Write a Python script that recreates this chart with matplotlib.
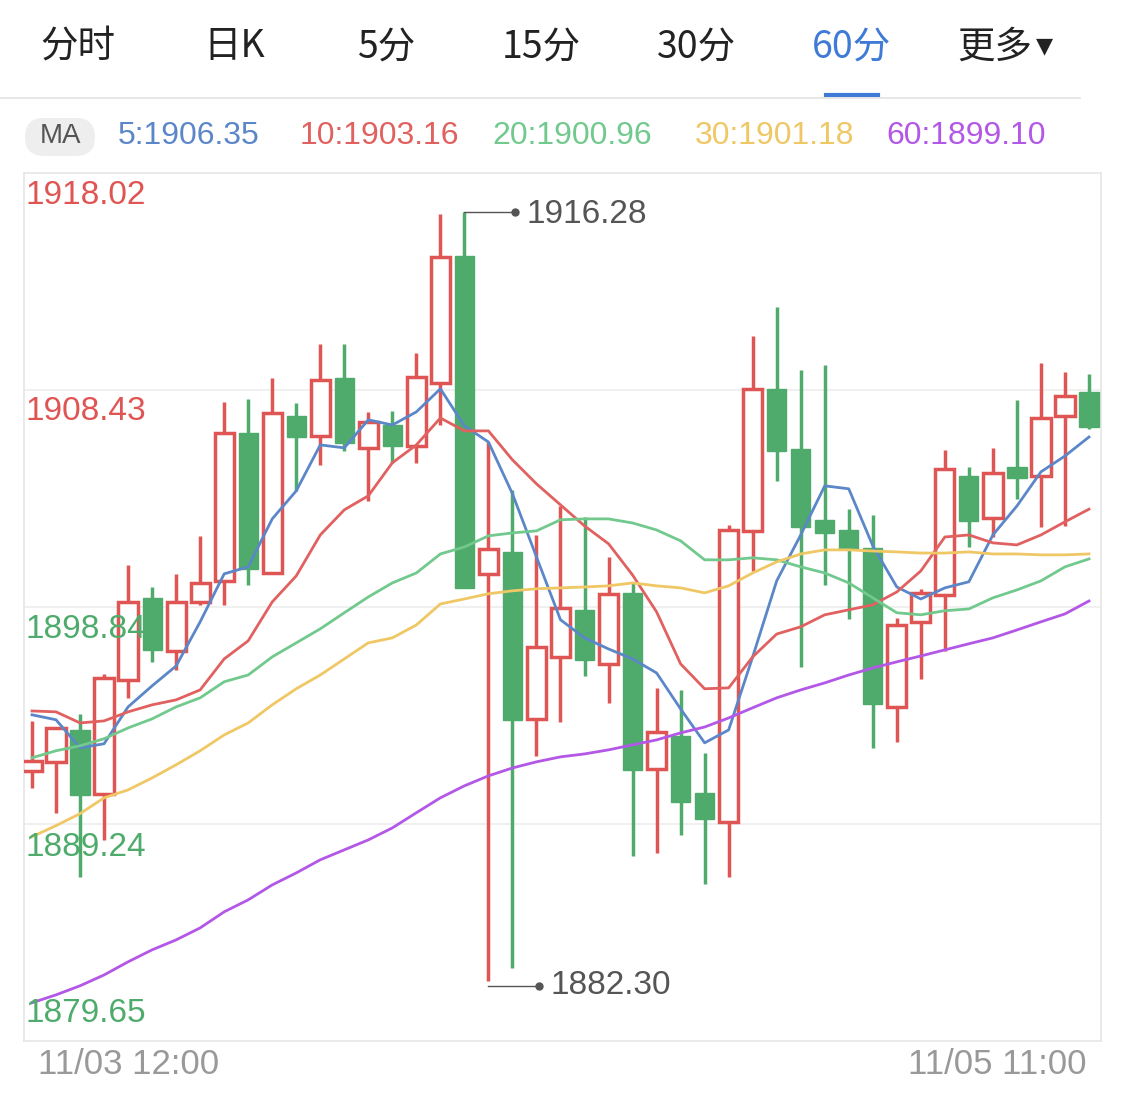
import matplotlib
matplotlib.use("Agg")
import matplotlib.pyplot as plt
from matplotlib.patches import Rectangle, FancyBboxPatch
import numpy as np

opens = [1891.59,1891.99,1893.40,1890.58,1895.61,1899.24,1896.89,1899.06,1899.99,1906.53,
         1900.34,1907.28,1906.40,1908.96,1905.87,1906.88,1905.96,1908.74,1914.35,1900.30,
         1901.27,1893.89,1896.63,1898.71,1896.32,1899.46,1891.68,1893.14,1890.62,1889.34,
         1902.20,1908.47,1905.82,1902.69,1902.24,1901.45,1894.42,1898.18,1899.37,1904.63,
         1902.77,1905.03,1904.63,1907.28,1908.34]
closes = [1892.03,1893.49,1890.53,1895.70,1899.06,1896.94,1899.06,1899.90,1906.53,1900.52,
          1907.41,1906.35,1908.87,1906.09,1907.02,1905.96,1909.00,1914.31,1899.68,1901.40,
          1893.85,1897.07,1898.80,1896.50,1899.41,1891.64,1893.32,1890.22,1889.47,1902.24,
          1908.47,1905.73,1902.38,1902.11,1901.40,1894.55,1898.04,1899.46,1904.94,1902.64,
          1904.76,1904.54,1907.19,1908.17,1906.80]
highs = [1893.80,1893.49,1894.11,1895.88,1900.70,1899.72,1900.30,1901.98,1907.90,1908.03,
         1908.96,1907.86,1910.46,1910.46,1907.46,1907.50,1910.07,1916.21,1916.28,1906.13,
         1904.01,1902.02,1903.30,1902.82,1901.05,1899.90,1895.26,1895.17,1892.39,1902.46,
         1910.82,1912.10,1909.31,1909.54,1903.17,1902.91,1898.35,1899.64,1905.78,1905.03,
         1905.87,1907.99,1909.62,1909.23,1909.14]
lows = [1890.84,1889.74,1886.91,1888.54,1894.82,1896.41,1896.06,1898.93,1898.93,1899.81,
        1900.34,1903.97,1905.12,1905.73,1903.52,1905.20,1905.20,1906.88,1899.68,1882.30,
        1882.89,1892.26,1893.76,1895.79,1894.60,1887.84,1887.97,1888.76,1886.60,1886.91,
        1900.43,1904.41,1896.19,1899.81,1898.31,1892.61,1892.87,1895.66,1896.90,1901.49,
        1901.93,1903.61,1902.38,1902.42,1906.71]
ma5 = [1894.07,1893.85,1892.61,1892.79,1894.42,1895.35,1896.23,1898.18,1900.30,1900.61,
       1902.73,1903.97,1906.00,1905.87,1907.11,1906.88,1907.46,1908.48,1906.84,1906.13,
       1903.84,1901.05,1898.27,1897.47,1896.98,1896.54,1895.92,1894.33,1892.83,1893.40,
       1896.63,1899.99,1902.02,1904.19,1904.06,1901.54,1899.72,1899.19,1899.68,1899.95,
       1902.02,1903.30,1904.81,1905.51,1906.35]
ma10 = [1894.24,1894.20,1893.71,1893.80,1894.20,1894.51,1894.73,1895.17,1896.54,1897.34,
        1899.06,1900.21,1902.02,1903.13,1903.75,1905.21,1906.00,1907.19,1906.62,1906.62,
        1905.34,1904.28,1903.35,1902.42,1901.63,1900.25,1898.62,1896.32,1895.22,1895.26,
        1896.63,1897.64,1897.96,1898.49,1898.71,1898.93,1899.50,1900.43,1901.93,1902.02,
        1901.67,1901.58,1902.02,1902.60,1903.16]
ma20 = [1892.17,1892.48,1892.70,1893.01,1893.49,1893.89,1894.42,1894.82,1895.53,1895.83,
        1896.63,1897.25,1897.87,1898.58,1899.28,1899.90,1900.34,1901.18,1901.49,1901.98,
        1902.11,1902.20,1902.69,1902.73,1902.73,1902.55,1902.24,1901.76,1900.92,1900.92,
        1901.01,1900.92,1900.61,1900.34,1899.90,1899.24,1898.58,1898.49,1898.67,1898.75,
        1899.24,1899.59,1899.99,1900.61,1900.96]
ma30 = [1888.68,1889.17,1889.70,1890.40,1890.75,1891.28,1891.86,1892.48,1893.18,1893.71,
        1894.51,1895.22,1895.83,1896.54,1897.25,1897.47,1898.04,1898.97,1899.19,1899.42,
        1899.55,1899.64,1899.68,1899.72,1899.77,1899.90,1899.77,1899.68,1899.46,1899.77,
        1900.34,1900.83,1901.18,1901.36,1901.36,1901.31,1901.27,1901.22,1901.22,1901.27,
        1901.18,1901.18,1901.14,1901.14,1901.18]
ma60 = [1881.34,1881.69,1882.09,1882.57,1883.15,1883.68,1884.12,1884.65,1885.36,1885.89,
        1886.55,1887.08,1887.66,1888.10,1888.54,1889.07,1889.74,1890.40,1890.93,1891.37,
        1891.72,1891.99,1892.21,1892.34,1892.52,1892.74,1892.96,1893.27,1893.53,1893.93,
        1894.38,1894.82,1895.17,1895.48,1895.83,1896.14,1896.41,1896.67,1896.94,1897.21,
        1897.47,1897.82,1898.18,1898.53,1899.10]
y_ticks = [1918.02, 1908.43, 1898.84, 1889.24, 1879.65]
tabs = ["分时", "日K", "5分", "15分", "30分", "60分", "更多"]
ma_labels = ["5:1906.35", "10:1903.16", "20:1900.96", "30:1901.18", "60:1899.10"]
date_labels = ["11/03 12:00", "11/05 11:00"]

W, H = 1125, 1097
RED = "#de5553"; GREEN = "#4fab6c"
ma_colors = ["#5b87c9", "#e0615f", "#72c98d", "#f0c765", "#b257e6"]
CJK = "Noto Sans CJK SC"
NUM = "Liberation Sans"

fig = plt.figure(figsize=(W/100, H/100), dpi=100)
fig.patch.set_facecolor("white")

def fx(px): return px / W
def fy(py): return 1 - py / H

# tabs
tab_x = [78, 234, 386, 541, 697, 851, 995]
for t, x in zip(tabs, tab_x):
    fig.text(fx(x), fy(47), t, ha="center", va="center", fontsize=27, family=CJK,
             color="#3f7ad6" if t == "60分" else "#222222",
             fontweight="medium" if t == "60分" else "normal")
fig.text(fx(1044), fy(46), "▼", ha="center", va="center", fontsize=16, family="DejaVu Sans", color="#222222")
fig.add_artist(plt.Line2D([fx(826), fx(878)], [fy(95), fy(95)], color="#3f7ad6", lw=3))
fig.add_artist(plt.Line2D([0, fx(1080)], [fy(98), fy(98)], color="#e3e3e3", lw=1.2))

# MA legend
fig.add_artist(FancyBboxPatch((fx(25), fy(156)), fx(70), 38/H, boxstyle="round,pad=0,rounding_size=0.017",
                              transform=fig.transFigure, facecolor="#eeeeee", edgecolor="none"))
fig.text(fx(60), fy(136), "MA", ha="center", va="center", fontsize=20, color="#555555", family=NUM)
for lab, x, c in zip(ma_labels, [118, 300, 492, 695, 886], ma_colors):
    fig.text(fx(x), fy(136), lab, ha="left", va="center", fontsize=23, color=c, family=NUM)

ax = fig.add_axes([fx(24), 1 - 1041/H, fx(1077), 868/H])
n = len(opens)
xs = np.arange(n)
bw = 0.8
for i in xs:
    o, c, h, l = opens[i], closes[i], highs[i], lows[i]
    up = c >= o
    col = RED if up else GREEN
    top, bot = max(o, c), min(o, c)
    ax.plot([i, i], [top, h], color=col, lw=2.5, zorder=2, solid_capstyle="butt")
    ax.plot([i, i], [l, bot], color=col, lw=2.5, zorder=2, solid_capstyle="butt")
    if up:
        ax.add_patch(Rectangle((i - bw/2, bot), bw, max(top - bot, 0.05), facecolor="white",
                               edgecolor=col, lw=2.5, zorder=3))
    else:
        ax.add_patch(Rectangle((i - bw/2, bot), bw, max(top - bot, 0.05), facecolor=col,
                               edgecolor=col, lw=1, zorder=3))
for ser, c in zip([ma5, ma10, ma20, ma30, ma60], ma_colors):
    ax.plot(xs, ser, color=c, lw=2, zorder=4)

ax.set_xlim(-0.333, 44.5)
ax.set_ylim(y_ticks[-1], y_ticks[0])
for v in y_ticks[1:-1]:
    ax.axhline(v, color="#eeeeee", lw=1.2, zorder=0)
for s in ax.spines.values():
    s.set_color("#e6e6e6"); s.set_linewidth(1.2)
ax.set_xticks([]); ax.set_yticks([])

lab_cols = [RED, RED, GREEN, GREEN, GREEN]
lab_y = [195, 412, 629, 847, 1013]
for v, c, py in zip(y_ticks, lab_cols, lab_y):
    fig.text(fx(26), fy(py), f"{v:.2f}", ha="left", va="center", fontsize=24, color=c, family=NUM, zorder=10)

# max / min annotations
imax = int(np.argmax(highs)); imin = int(np.argmin(lows))
ax.annotate(f"{highs[imax]:.2f}", xy=(imax, highs[imax]), xytext=(imax + 2.6, highs[imax] - 0.1),
            fontsize=24, color="#555555", va="center", ha="left", family=NUM)
ax.plot([imax, imax + 2.1], [highs[imax]] * 2, color="#555555", lw=1)
ax.plot([imax + 2.1], [highs[imax]], "o", color="#555555", ms=5)
ax.annotate(f"{lows[imin]:.2f}", xy=(imin, lows[imin]), xytext=(imin + 2.6, lows[imin] - 0.2),
            fontsize=24, color="#555555", va="center", ha="left", family=NUM)
ax.plot([imin, imin + 2.1], [lows[imin] - 0.2] * 2, color="#555555", lw=1)
ax.plot([imin + 2.1], [lows[imin] - 0.2], "o", color="#555555", ms=5)

fig.text(fx(38), fy(1065), date_labels[0], ha="left", va="center", fontsize=25, color="#999999", family=NUM)
fig.text(fx(1087), fy(1065), date_labels[1], ha="right", va="center", fontsize=25, color="#999999", family=NUM)

fig.savefig("out.png", dpi=100, facecolor="white")
